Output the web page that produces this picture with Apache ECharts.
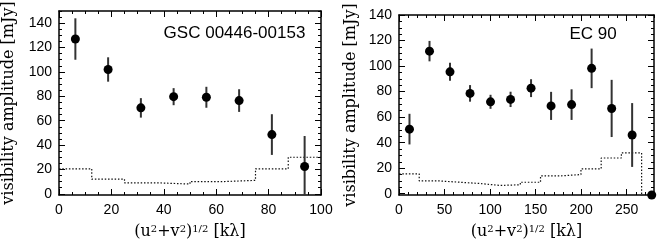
<!DOCTYPE html>
<html>
<head>
<meta charset="utf-8">
<script src="https://cdn.jsdelivr.net/npm/echarts@6/dist/echarts.min.js"></script>
<style>html,body{margin:0;padding:0;background:#fff;}#c{width:663px;height:245px;}</style>
</head>
<body>
<div id="c"></div>
<script>
// ---- Left panel: GSC 00446-00153 ----
const leftLabel = 'GSC 00446-00153';
const leftX = [6.25, 18.75, 31.25, 43.75, 56.25, 68.75, 81.25, 93.75];
const leftY = [127, 102, 70.5, 79.7, 79.2, 76.5, 48.6, 22.4];
const leftErr = [17, 10, 8, 7, 8.6, 9.3, 16.7, 25];
const leftHistEdges = [0, 12.5, 25, 37.5, 50, 62.5, 75, 87.5, 100];
const leftHistLevels = [20.5, 12, 9, 8, 10, 11, 20.5, 30];
const leftXTicks = [0, 20, 40, 60, 80, 100];

// ---- Right panel: EC 90 ----
const rightLabel = 'EC 90';
const rightX = [11.5, 33.5, 56, 78, 100.5, 122.5, 145, 167, 189.5, 211.5, 233.5, 256, 277.5];
const rightY = [50.6, 111.7, 95.5, 78.6, 72, 73.9, 82.7, 68.8, 69.8, 98.2, 66.8, 46, -1];
const rightErr = [12, 8, 7, 6.5, 5.5, 6, 7, 11, 12, 15.5, 22.4, 25, 0];
const rightHistEdges = [0, 22.2, 44.4, 66.6, 88.8, 111, 133.2, 155.4, 177.6, 199.8, 222, 244.2, 266.4];
const rightHistLevels = [15.5, 10, 9, 8, 6.5, 7, 9, 14, 15, 19.5, 28, 32];
const rightXTicks = [0, 50, 100, 150, 200, 250];

const yTicks = [0, 20, 40, 60, 80, 100, 120, 140];

const yName = 'visibility amplitude [mJy]';
const xName = '(u{s|2}+v{s|2}){s|1/2} [k\u03bb]';

function range(a, b, step) { const r = []; for (let v = a; v <= b + 1e-9; v += step) r.push(+v.toFixed(4)); return r; }

const tickFont = { fontFamily: 'Liberation Sans', fontSize: 14, color: '#000' };
const nameFont = { fontFamily: 'DejaVu Serif', fontSize: 16, color: '#000' };

function axisSet(dim, grid, min, max, majors, minors, withName, nameGap) {
  const posA = dim === 'x' ? 'bottom' : 'left';
  const posB = dim === 'x' ? 'top' : 'right';
  const base = { type: 'value', gridIndex: grid, min: min, max: max, splitLine: { show: false } };
  const main = Object.assign({}, base, {
    position: posA,
    axisLine: { show: true, onZero: false, lineStyle: { color: '#000', width: 1.5 } },
    axisTick: { show: true, inside: true, length: 6, customValues: majors, lineStyle: { color: '#000', width: 1 } },
    axisLabel: Object.assign({ show: true, customValues: majors, margin: dim === 'x' ? 8 : 7 }, tickFont),
    name: withName,
    nameLocation: 'middle',
    nameGap: nameGap,
    nameTextStyle: Object.assign({}, nameFont, dim === 'x' ? { rich: { s: { fontFamily: 'DejaVu Serif', fontSize: 10, verticalAlign: 'top', color: '#000' } } } : {})
  });
  const minor = Object.assign({}, base, {
    position: posA,
    axisLine: { show: false, onZero: false },
    axisTick: { show: true, inside: true, length: 3, customValues: minors, lineStyle: { color: '#000', width: 1 } },
    axisLabel: { show: false }
  });
  const oppMain = Object.assign({}, base, {
    position: posB,
    axisLine: { show: true, onZero: false, lineStyle: { color: '#000', width: 1.5 } },
    axisTick: { show: true, inside: true, length: 6, customValues: majors, lineStyle: { color: '#000', width: 1 } },
    axisLabel: { show: false }
  });
  const oppMinor = Object.assign({}, base, {
    position: posB,
    axisLine: { show: false, onZero: false },
    axisTick: { show: true, inside: true, length: 3, customValues: minors, lineStyle: { color: '#000', width: 1 } },
    axisLabel: { show: false }
  });
  return [main, minor, oppMain, oppMinor];
}

const L = { xmin: 0, xmax: 100, ymin: -1, ymax: 150 };
const R = { xmin: 0, xmax: 280, ymin: -1, ymax: 140 };

const xAxes = [].concat(
  axisSet('x', 0, L.xmin, L.xmax, leftXTicks, range(0, 100, 5), xName, 29),
  axisSet('x', 1, R.xmin, R.xmax, rightXTicks, range(0, 280, 10), xName, 29)
);
const yAxes = [].concat(
  axisSet('y', 0, L.ymin, L.ymax, yTicks, range(0, 150, 5), yName, 42),
  axisSet('y', 1, R.ymin, R.ymax, yTicks, range(0, 140, 5), yName, 40)
);

function histData(edges, levels, dropTo) {
  const d = edges.slice(0, levels.length).map((e, i) => [e, levels[i]]);
  d.push([edges[levels.length], levels[levels.length - 1]]);
  if (dropTo !== undefined) d.push([edges[levels.length], dropTo]);
  return d;
}

function errSeries(xi, yi, xs, ys, es) {
  return {
    type: 'custom', xAxisIndex: xi, yAxisIndex: yi, clip: true, z: 3,
    data: xs.map((x, i) => [x, ys[i] - es[i], ys[i] + es[i]]),
    renderItem: function (params, api) {
      const a = api.coord([api.value(0), api.value(1)]);
      const b = api.coord([api.value(0), api.value(2)]);
      return { type: 'line', shape: { x1: a[0], y1: a[1], x2: b[0], y2: b[1] }, style: { stroke: '#333', lineWidth: 2 } };
    }
  };
}

function pointSeries(xi, yi, xs, ys) {
  return {
    type: 'scatter', xAxisIndex: xi, yAxisIndex: yi, clip: true, z: 4,
    symbol: 'circle', symbolSize: 9, itemStyle: { color: '#000', opacity: 1 },
    data: xs.map((x, i) => [x, ys[i]])
  };
}

function histSeries(xi, yi, data) {
  return {
    type: 'line', xAxisIndex: xi, yAxisIndex: yi, step: 'end', clip: true, showSymbol: false, symbol: 'none', z: 2,
    lineStyle: { color: '#111', width: 1.2, type: [1.5, 1.8] },
    data: data
  };
}

const option = {
  backgroundColor: '#fff',
  animation: false,
  grid: [
    { left: 59, top: 11, width: 262, height: 189 },
    { left: 399, top: 15, width: 255, height: 185 }
  ],
  xAxis: xAxes,
  yAxis: yAxes,
  graphic: [
    { type: 'text', x: 234.5, y: 33, style: { text: leftLabel, font: '17px "Liberation Sans"', fill: '#000', align: 'center', verticalAlign: 'middle' } },
    { type: 'text', x: 593, y: 34, style: { text: rightLabel, font: '17px "Liberation Sans"', fill: '#000', align: 'center', verticalAlign: 'middle' } }
  ],
  series: [
    histSeries(0, 0, histData(leftHistEdges, leftHistLevels)),
    errSeries(0, 0, leftX, leftY, leftErr),
    pointSeries(0, 0, leftX, leftY),
    histSeries(4, 4, histData(rightHistEdges, rightHistLevels, -5)),
    errSeries(4, 4, rightX, rightY, rightErr),
    pointSeries(4, 4, rightX, rightY)
  ]
};

const chart = echarts.init(document.getElementById('c'), null, { renderer: 'canvas' });
chart.setOption(option);
</script>
</body>
</html>
